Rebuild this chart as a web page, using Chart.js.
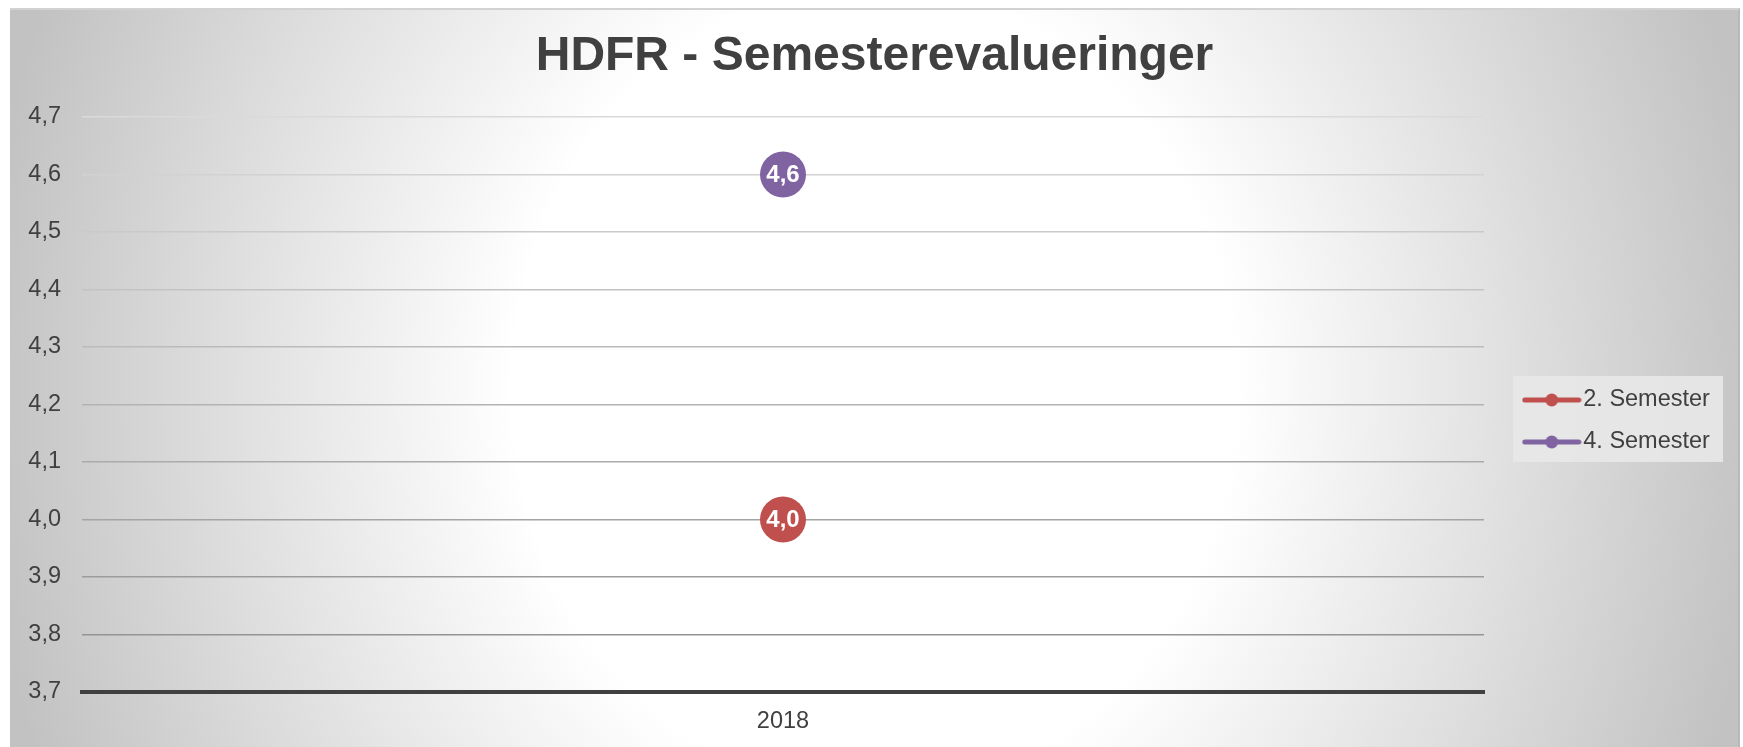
<!DOCTYPE html>
<html>
<head>
<meta charset="utf-8">
<script src="https://cdn.jsdelivr.net/npm/chart.js@4.4.1/dist/chart.umd.min.js"></script>
<style>
  html, body { margin:0; padding:0; background:#fff; overflow:hidden; }
  #frame {
    position:absolute; left:10px; top:8px; width:1730px; height:760px; box-sizing:border-box;
    border-top:2px solid #d2d2d2; border-right:2px solid #b9b9b9;
    background: radial-gradient(ellipse 900px 1000px at 864px 380px, #ffffff 0%, #ffffff 40%, #c2c2c2 100%);
  }
  #c { position:absolute; left:0; top:0; }
</style>
</head>
<body>
<div id="frame"></div>
<canvas id="c" width="1743" height="747"></canvas>
<script>
// --- data ---
const years = ["2018"];
const seriesNames = ["2. Semester", "4. Semester"];
const sem2 = [4.0];
const sem4 = [4.6];
const colors = ["#C0504D", "#8064A2"];
const yMin = 3.7, yMax = 4.7, yStep = 0.1;

const FONT = "'Liberation Sans', Arial, sans-serif";
const TXT = "#404040";
const comma = (v) => Number(v).toFixed(1).replace(".", ",");

// small line+dot images for the legend
function legendMark(color){
  const cv = document.createElement("canvas");
  cv.width = 60; cv.height = 16;
  const g = cv.getContext("2d");
  g.strokeStyle = color; g.lineWidth = 5; g.lineCap = "round";
  g.beginPath(); g.moveTo(3, 8); g.lineTo(57, 8); g.stroke();
  g.fillStyle = color;
  g.beginPath(); g.arc(30, 8, 6.5, 0, Math.PI*2); g.fill();
  return cv;
}
const marks = colors.map(legendMark);

// gridlines get darker towards the bottom
function gridColor(ctx){
  const v = ctx.tick ? ctx.tick.value : yMax;
  if (Math.abs(v - yMin) < 1e-6) return "rgba(0,0,0,0)";
  const t = (yMax - v) / (yMax - yMin - yStep);
  const c = Math.round(218 - t * 70);
  return `rgb(${c},${c},${c})`;
}

// title centred on the whole frame, legend placed right of the plot
const placeBoxes = {
  id: "placeBoxes",
  afterLayout(chart){
    const tt = chart.titleBlock;
    if (tt){ tt.left = 10; tt.right = 1739; tt.width = 1729; }
    const lg = chart.legend;
    if (!lg) return;
    const w = lg.width;
    lg.left = 1513.5; lg.right = lg.left + w;
    lg.top = 369.75; lg.bottom = 472.25;
  },
  beforeDraw(chart){
    const c = chart.ctx;
    c.save();
    c.fillStyle = "rgba(232,232,232,0.9)";
    c.fillRect(1513, 376, 210, 86);
    c.restore();
  }
};

// value labels inside the markers
const pointLabels = {
  id: "pointLabels",
  afterDatasetsDraw(chart){
    const c = chart.ctx;
    c.save();
    c.font = `bold 24px ${FONT}`;
    c.fillStyle = "#ffffff";
    c.textAlign = "center";
    c.textBaseline = "middle";
    chart.data.datasets.forEach((ds, i)=>{
      chart.getDatasetMeta(i).data.forEach((pt, j)=>{
        c.fillText(comma(ds.data[j]), pt.x, pt.y + 1);
      });
    });
    c.restore();
  }
};

new Chart(document.getElementById("c"), {
  type: "line",
  data: {
    labels: years,
    datasets: [
      { label: seriesNames[0], data: sem2, borderColor: colors[0], backgroundColor: colors[0],
        pointRadius: 23, pointBorderWidth: 0, borderWidth: 5 },
      { label: seriesNames[1], data: sem4, borderColor: colors[1], backgroundColor: colors[1],
        pointRadius: 23, pointBorderWidth: 0, borderWidth: 5 }
    ]
  },
  options: {
    responsive: false,
    animation: false,
    events: [],
    layout: { padding: { left: 0, right: 259, top: 0, bottom: 0 } },
    plugins: {
      title: {
        display: true, text: "HDFR - Semesterevalueringer", color: TXT,
        font: { family: FONT, size: 48, weight: "bold" },
        padding: { top: 28, bottom: 31.4 }
      },
      legend: {
        position: "chartArea",
        labels: {
          color: TXT, font: { family: FONT, size: 23.5 },
          usePointStyle: true, pointStyleWidth: 39.5, padding: 18.5,
          generateLabels: (chart) => chart.data.datasets.map((ds, i) => ({
            text: ds.label, pointStyle: marks[i], fillStyle: colors[i], strokeStyle: colors[i],
            lineWidth: 0, fontColor: TXT, hidden: false, datasetIndex: i
          }))
        }
      },
      tooltip: { enabled: false }
    },
    scales: {
      x: {
        offset: true,
        grid: { display: false, drawTicks: false },
        border: { display: true, color: "#404040", width: 4 },
        ticks: { color: TXT, font: { family: FONT, size: 23.5 }, padding: 15 },
        afterFit: (s) => { s.height = 55; }
      },
      y: {
        min: yMin, max: yMax,
        grid: { color: gridColor, lineWidth: 1.5, drawTicks: false },
        border: { display: false },
        ticks: { stepSize: yStep, color: TXT, font: { family: FONT, size: 23.5 }, padding: 21,
          callback: (v) => comma(v) },
        afterFit: (s) => { s.width = 82; }
      }
    }
  },
  plugins: [placeBoxes, pointLabels]
});
</script>
</body>
</html>
